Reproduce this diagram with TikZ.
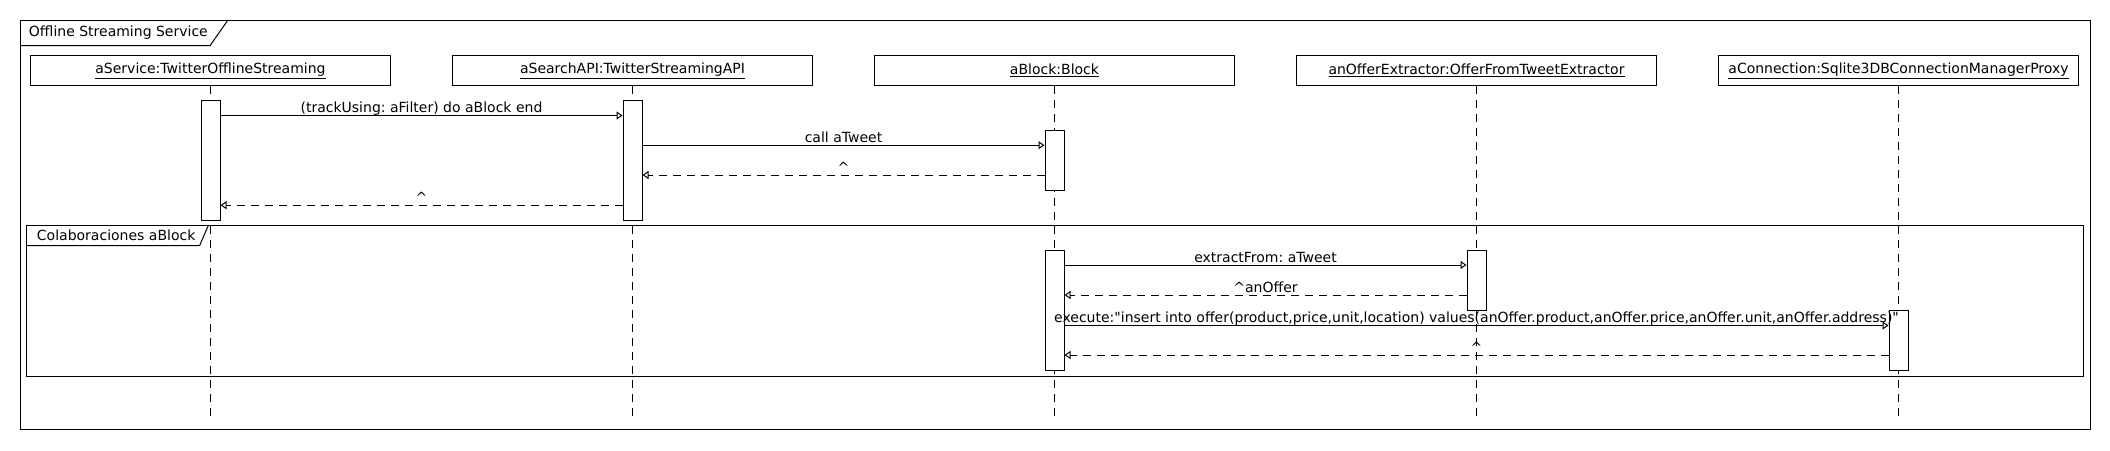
\documentclass[tikz,border=0pt]{standalone}
\usepackage{fontspec}
\setmainfont{DejaVu Sans}
\frenchspacing
\usetikzlibrary{positioning, arrows.meta}
\tikzstyle{object} = [rectangle, minimum width=270.4pt, minimum height=22.5pt, inner sep=0pt, text centered, draw=black]
\tikzstyle{activation} = [rectangle, minimum width=14.25pt, inner sep=0pt, draw=black, fill=white]
\tikzstyle{lifeline} = [dash pattern=on 6pt off 4.5pt]
\tikzstyle{call} = [-{Triangle[open, length=4.5pt, width=6pt]}]
\tikzstyle{reply} = [dash pattern=on 6pt off 4.5pt, -{Triangle[open, length=4.5pt, width=6pt]}]
\tikzstyle{msg} = [anchor=base, yshift=2.25pt, inner sep=0pt]

\begin{document}
\begin{tikzpicture}[x=0.75pt, y=-0.75pt, line width=0.75pt, font=\fontsize{10.5}{12.6}\selectfont]
\fill [white] (0,0) rectangle (2110,450);

% Outer frame
\draw (20,20) rectangle (2090.5,429);
\node (outertitle) [anchor=west] at (24,32.8) {Offline Streaming Service};
\draw (20,45.7) -- (210,45.7) -- (228,20);

% Nested frame
\draw (26.8,225) rectangle (2083,376);
\node (innertitle) [anchor=west] at (32,235.3) {Colaboraciones aBlock};
\draw (26.8,245.7) -- (199.6,245.7) -- (208.5,225);

% Objects
\node (service) [object] at (210.5,70.7) {\underline{aService:TwitterOfflineStreaming}};
\node (searchapi) [object, right=45.35pt of service] {\underline{aSearchAPI:TwitterStreamingAPI}};
\node (block) [object, right=45.35pt of searchapi] {\underline{aBlock:Block}};
\node (extractor) [object, right=45.35pt of block] {\underline{anOfferExtractor:OfferFromTweetExtractor}};
\node (connection) [object, right=45.35pt of extractor] {\underline{aConnection:Sqlite3DBConnectionManagerProxy}};

% Lifelines
\foreach \obj in {service, searchapi, block, extractor, connection}
  \draw [lifeline] (\obj.south) -- (\obj.south |- 0,417);

% Activations
\node (act1) [activation, minimum height=90pt] at (service |- 0,160) {};
\node (act2) [activation, minimum height=90pt] at (searchapi |- 0,160) {};
\node (act3) [activation, minimum height=45pt] at (block |- 0,160.2) {};
\node (act4) [activation, minimum height=90.4pt] at (block |- 0,310.3) {};
\node (act5) [activation, minimum height=45pt] at (extractor |- 0,280) {};
\node (act6) [activation, minimum height=45.4pt] at (connection |- 0,340.3) {};

% Messages
\coordinate (m1) at (0,115.5);
\coordinate (m2) at (0,145.2);
\coordinate (r1) at (0,175);
\coordinate (r2) at (0,205.2);
\coordinate (m3) at (0,265);
\coordinate (r3) at (0,295);
\coordinate (m4) at (0,325.5);
\coordinate (r4) at (0,355);
\draw [call] (act1.east |- m1) -- node[msg] {(trackUsing: aFilter) do aBlock end} (act2.west |- m1);
\draw [call] (act2.east |- m2) -- node[msg] {call aTweet} (act3.west |- m2);
\draw [reply] (act3.west |- r1) -- node[msg] {\textasciicircum} (act2.east |- r1);
\draw [reply] (act2.west |- r2) -- node[msg] {\textasciicircum} (act1.east |- r2);

% Colaboraciones aBlock
\draw [call] (act4.east |- m3) -- node[msg] {extractFrom: aTweet} (act5.west |- m3);
\draw [reply] (act5.west |- r3) -- node[msg] {\textasciicircum anOffer} (act4.east |- r3);
\draw [call] (act4.east |- m4) -- node[msg] {execute:\textquotedbl insert into offer(product,price,unit,location) values(anOffer.product,anOffer.price,anOffer.unit,anOffer.address)\textquotedbl} (act6.west |- m4);
\draw [reply] (act6.west |- r4) -- node[msg] {\textasciicircum} (act4.east |- r4);
\end{tikzpicture}
\end{document}
